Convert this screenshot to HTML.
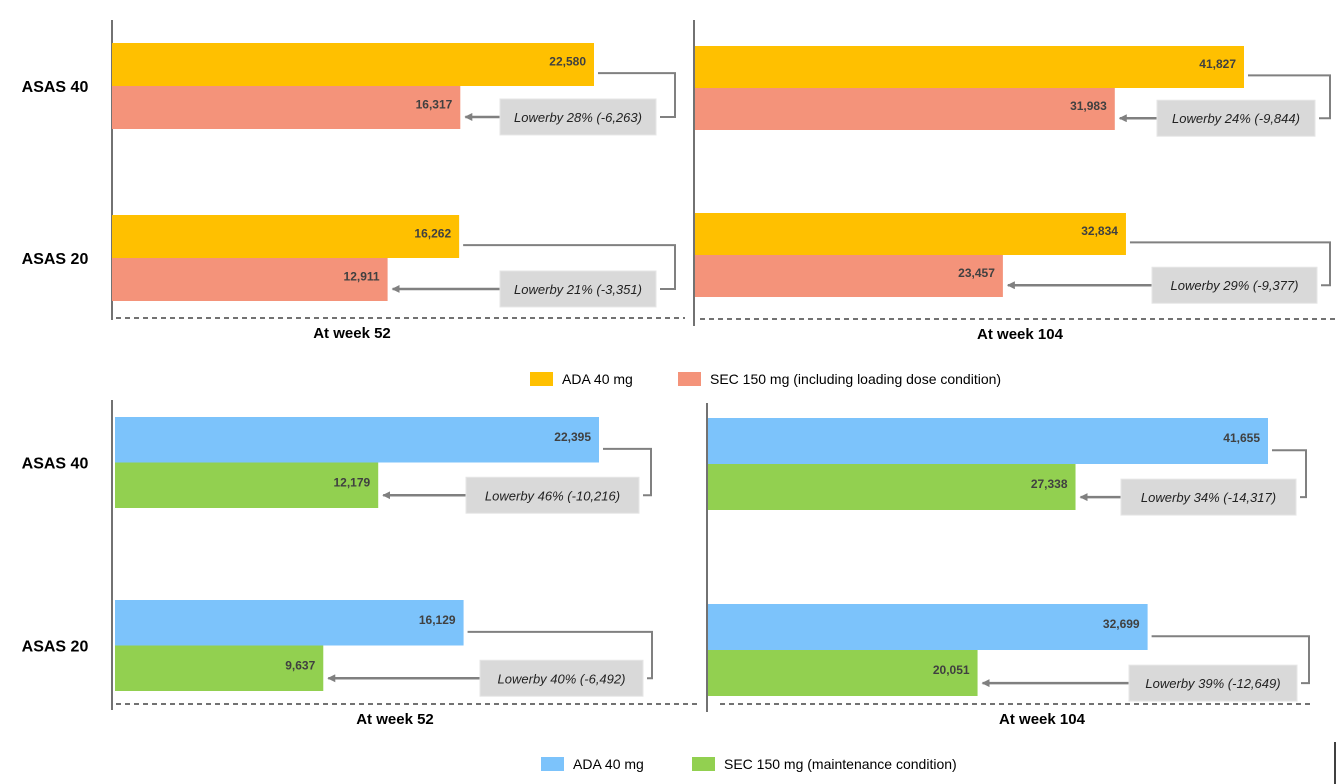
<!DOCTYPE html>
<html><head><meta charset="utf-8"><style>
html,body{margin:0;padding:0;background:#fff;}
svg{display:block;font-family:"Liberation Sans",sans-serif;}
</style></head><body>
<svg id="c" width="1340" height="784" viewBox="0 0 1340 784" xmlns="http://www.w3.org/2000/svg"></svg>
<script>
const categories = ["ASAS 40", "ASAS 20"];
const adaTopW52 = [22580, 16262];
const secTopW52 = [16317, 12911];
const adaTopW104 = [41827, 32834];
const secTopW104 = [31983, 23457];
const adaBotW52 = [22395, 16129];
const secBotW52 = [12179, 9637];
const adaBotW104 = [41655, 32699];
const secBotW104 = [27338, 20051];
const diffTopW52 = ["Lowerby 28% (-6,263)", "Lowerby 21% (-3,351)"];
const diffTopW104 = ["Lowerby 24% (-9,844)", "Lowerby 29% (-9,377)"];
const diffBotW52 = ["Lowerby 46% (-10,216)", "Lowerby 40% (-6,492)"];
const diffBotW104 = ["Lowerby 34% (-14,317)", "Lowerby 39% (-12,649)"];

const NS = "http://www.w3.org/2000/svg";
const svg = document.getElementById("c");
function el(tag, attrs, parent) {
  const e = document.createElementNS(NS, tag);
  for (const k in attrs) e.setAttribute(k, attrs[k]);
  (parent || svg).appendChild(e);
  return e;
}
function fmt(v) { return v.toLocaleString("en-US"); }

const defs = el("defs", {});
const mk = el("marker", {id: "arr", markerWidth: 8, markerHeight: 8, refX: 7, refY: 4, orient: "auto", markerUnits: "userSpaceOnUse"}, defs);
el("path", {d: "M0,0 L8,4 L0,8 z", fill: "#808080"}, mk);

function panel(p) {
  const g = el("g", {});
  
  
  const x = v => p.x0 + v * p.k;
  const ax = el("line", {x1: p.axisX, x2: p.axisX, y1: p.axisY1, y2: p.axisY2, stroke: "#444", "stroke-width": 1.5}, g);
  
  
  const dl = el("line", {x1: p.dashX1, x2: p.dashX2, y1: p.dashY, y2: p.dashY, stroke: "#444", "stroke-width": 1.5, "stroke-dasharray": "5,4"}, g);
  
  
  const t = el("text", {x: p.labelX, y: p.dashY + 20, "font-size": 15, "font-weight": "bold", "text-anchor": "middle", fill: "#000"}, g);
  t.textContent = p.label;
  
  
  for (let i = 0; i < 2; i++) {
    const yA = p.rowY[i], h = p.barH;
    const yS = yA + h;
    if (p.showCats) {
      const c = el("text", {x: 55, y: yS + 6, "font-size": 16, "font-weight": "bold", "text-anchor": "middle", fill: "#000"}, g);
      c.textContent = categories[i];
      
      
    }
    const xa = x(p.ada[i]), xs = x(p.sec[i]);
    const ba = el("rect", {x: p.x0, y: yA, width: xa - p.x0, height: h, fill: p.c1}, g);
    
    
    const bs = el("rect", {x: p.x0, y: yS, width: xs - p.x0, height: h, fill: p.c2}, g);
    
    
    const la = el("text", {x: xa - 8, y: yA + h / 2 + 1, "font-size": 12, "font-weight": "bold", "text-anchor": "end", fill: "#404040"}, g);
    la.textContent = fmt(p.ada[i]);
    
    
    const ls = el("text", {x: xs - 8, y: yS + h / 2 + 1, "font-size": 12, "font-weight": "bold", "text-anchor": "end", fill: "#404040"}, g);
    ls.textContent = fmt(p.sec[i]);
    
    
    const arrY = yS + h * 0.72;
    const bx = p.boxX[i], bw = p.boxW[i], by = arrY - 18;
    const br = el("polyline", {points: `${xa + 4},${yA + h * 0.7} ${p.brX[i]},${yA + h * 0.7} ${p.brX[i]},${arrY} ${bx + bw + 4},${arrY}`, fill: "none", stroke: "#808080", "stroke-width": 2}, g);
    
    
    const ar = el("line", {x1: bx, y1: arrY, x2: xs + 5, y2: arrY, stroke: "#808080", "stroke-width": 2.5, "marker-end": "url(#arr)"}, g);
    
    
    const rb = el("rect", {x: bx, y: by, width: bw, height: 36, fill: "#d9d9d9", stroke: "#e6e6e6", "stroke-width": 1}, g);
    
    
    const dt = el("text", {x: bx + bw / 2, y: by + 23, "font-size": 13, "font-style": "italic", "text-anchor": "middle", fill: "#222"}, g);
    dt.textContent = p.diff[i];
    
    
  }
}

const ORANGE = "#ffc000", SALMON = "#f4937a", BLUE = "#7cc3fb", GREEN = "#92d050";
panel({name: "panel-top-week52", x0: 112, k: 482 / 22580, ada: adaTopW52, sec: secTopW52, diff: diffTopW52, rowY: [43, 215], barH: 43,
  c1: ORANGE, c2: SALMON, axisX: 112, axisY1: 20, axisY2: 320, dashX1: 116, dashX2: 685, dashY: 318, label: "At week 52", labelX: 352,
  boxX: [500, 500], boxW: [156, 156], brX: [675, 675], showCats: true});
panel({name: "panel-top-week104", x0: 695, k: 549 / 41827, ada: adaTopW104, sec: secTopW104, diff: diffTopW104, rowY: [46, 213], barH: 42,
  c1: ORANGE, c2: SALMON, axisX: 694, axisY1: 20, axisY2: 326, dashX1: 700, dashX2: 1338, dashY: 319, label: "At week 104", labelX: 1020,
  boxX: [1157, 1152], boxW: [158, 165], brX: [1330, 1330], showCats: false});
panel({name: "panel-bottom-week52", x0: 115, k: 484 / 22395, ada: adaBotW52, sec: secBotW52, diff: diffBotW52, rowY: [417, 600], barH: 45.5,
  c1: BLUE, c2: GREEN, axisX: 112, axisY1: 400, axisY2: 710, dashX1: 116, dashX2: 700, dashY: 704, label: "At week 52", labelX: 395,
  boxX: [466, 480], boxW: [173, 163], brX: [651, 652], showCats: true});
panel({name: "panel-bottom-week104", x0: 708, k: 560 / 41655, ada: adaBotW104, sec: secBotW104, diff: diffBotW104, rowY: [418, 604], barH: 46,
  c1: BLUE, c2: GREEN, axisX: 707, axisY1: 403, axisY2: 712, dashX1: 720, dashX2: 1312, dashY: 704, label: "At week 104", labelX: 1042,
  boxX: [1121, 1129], boxW: [175, 168], brX: [1306, 1309], showCats: false});

function legend(items, y, name) {
  const g = el("g", {});
  
  
  items.forEach(it => {
    const r = el("rect", {x: it.x, y: y, width: 23, height: 14, fill: it.c}, g);
    
    
    const t = el("text", {x: it.x + 32, y: y + 12, "font-size": 14, fill: "#000"}, g);
    t.textContent = it.t;
    
    
  });
}
legend([{x: 530, c: ORANGE, t: "ADA 40 mg"}, {x: 678, c: SALMON, t: "SEC 150 mg (including loading dose condition)"}], 372, "legend-top");
legend([{x: 541, c: BLUE, t: "ADA 40 mg"}, {x: 692, c: GREEN, t: "SEC 150 mg (maintenance condition)"}], 757, "legend-bottom");
const edge = el("line", {x1: 1335, x2: 1335, y1: 742, y2: 784, stroke: "#000", "stroke-width": 1.5});


</script>
</body></html>
